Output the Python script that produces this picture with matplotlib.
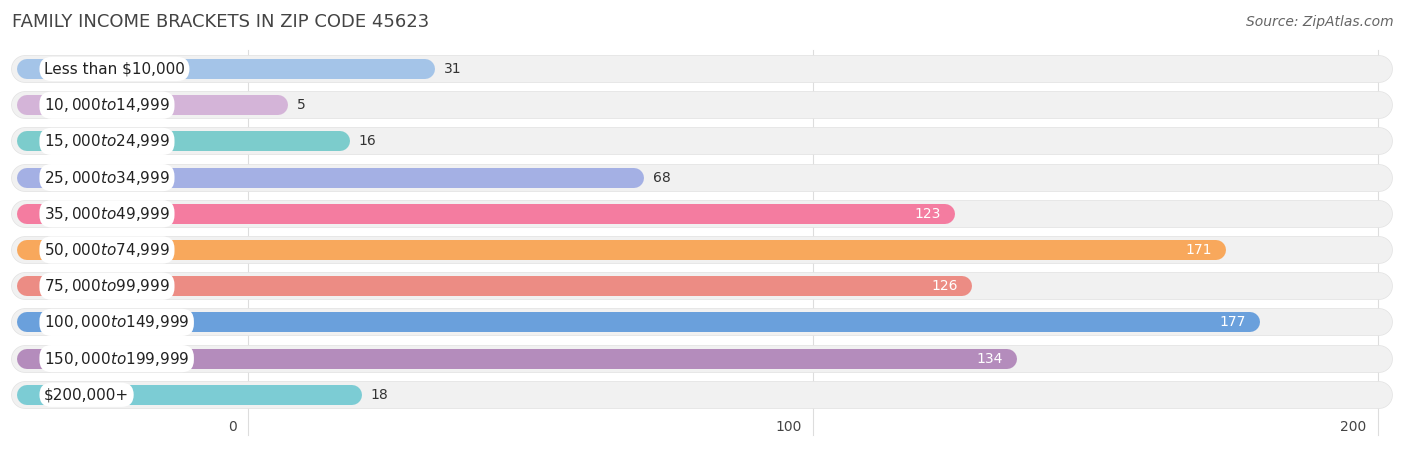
import matplotlib.pyplot as plt

categories = ["Less than $10,000", "$10,000 to $14,999", "$15,000 to $24,999",
              "$25,000 to $34,999", "$35,000 to $49,999", "$50,000 to $74,999",
              "$75,000 to $99,999", "$100,000 to $149,999", "$150,000 to $199,999",
              "$200,000+"]
values = [31, 5, 16, 68, 123, 171, 126, 177, 134, 18]
colors = ["#a4c4e8", "#d4b4d8", "#7ccccc", "#a4b0e4", "#f47ca0",
          "#f8a85c", "#ec8c84", "#6aa0dc", "#b48cbc", "#7cccd4"]
ticks = [0, 100, 200]

W, H = 1406, 450
ppu = 5.65          # pixels per unit
x0 = 248            # pixel of value 0

fig = plt.figure(figsize=(W / 100, H / 100), dpi=100)
ax = fig.add_axes([0, 0, 1, 1])
ax.set_xlim(-x0 / ppu, (W - x0) / ppu)
ax.set_ylim(H, 0)
ax.axis("off")

def px(p):
    return (p - x0) / ppu

# grid lines
for t in ticks:
    ax.plot([t, t], [50, 435], color="#dddddd", lw=0.8, zorder=0)
    ax.text(t - 2, 427, str(t), ha="right", va="center", fontsize=10, color="#444444")

for i, (cat, v, c) in enumerate(zip(categories, values, colors)):
    y = 69 + i * 36.2
    # background pill
    ax.plot([px(25), px(1379)], [y, y], color="#f1f1f1", lw=19, solid_capstyle="round", zorder=1)
    ax.plot([px(25), px(1379)], [y, y], color="#e2e2e2", lw=20, solid_capstyle="round", zorder=0.9)
    # bar
    ax.plot([px(27), v + 12 / ppu - 10 / ppu], [y, y], color=c, lw=14.4,
            solid_capstyle="round", zorder=2)
    # label
    ax.text(px(44), y, cat, ha="left", va="center", fontsize=11, color="#222222", zorder=4,
            bbox=dict(boxstyle="round,pad=0.3,rounding_size=0.8", fc="white", ec="none"))
    end = v + 12 / ppu
    if v > 100:
        ax.text(end - 2.5, y, str(v), ha="right", va="center", fontsize=10,
                color="white", zorder=3)
    else:
        ax.text(end + 1.5, y, str(v), ha="left", va="center", fontsize=10,
                color="#333333", zorder=3)

fig.text(12 / W, 1 - 22 / H, "FAMILY INCOME BRACKETS IN ZIP CODE 45623", ha="left",
         va="center", fontsize=13, color="#444444")
fig.text(1 - 12 / W, 1 - 22 / H, "Source: ZipAtlas.com", ha="right", va="center",
         fontsize=10, color="#666666", style="italic")

fig.savefig("out.png", dpi=100)
